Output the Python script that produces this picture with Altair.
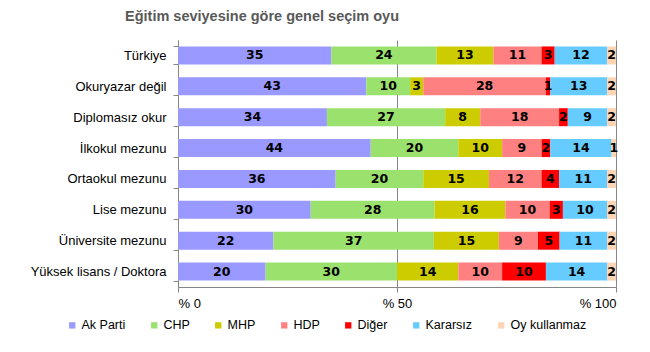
import altair as alt
import pandas as pd

categories = ["Türkiye", "Okuryazar değil", "Diplomasız okur", "İlkokul mezunu",
              "Ortaokul mezunu", "Lise mezunu", "Üniversite mezunu", "Yüksek lisans / Doktora"]
series = ["Ak Parti", "CHP", "MHP", "HDP", "Diğer", "Kararsız", "Oy kullanmaz"]
colors = ["#9999FF", "#9BE16E", "#CCCC00", "#FF8080", "#FF0000", "#66CCFF", "#FCD5B5"]

ak_parti = [35, 43, 34, 44, 36, 30, 22, 20]
chp = [24, 10, 27, 20, 20, 28, 37, 30]
mhp = [13, 3, 8, 10, 15, 16, 15, 14]
hdp = [11, 28, 18, 9, 12, 10, 9, 10]
diger = [3, 1, 2, 2, 4, 3, 5, 10]
kararsiz = [12, 13, 9, 14, 11, 10, 11, 14]
oy_kullanmaz = [2, 2, 2, 1, 2, 2, 2, 2]

values = [ak_parti, chp, mhp, hdp, diger, kararsiz, oy_kullanmaz]
rows = []
for si, (s, vals) in enumerate(zip(series, values)):
    for c, v in zip(categories, vals):
        rows.append({"cat": c, "series": s, "order": si, "value": v})
df = pd.DataFrame(rows)

base = alt.Chart(df).transform_stack(
    stack="value", groupby=["cat"], as_=["v0", "v1"], sort=[alt.SortField("order")]
).transform_joinaggregate(
    total="sum(value)", groupby=["cat"]
).transform_calculate(
    p0="datum.v0 / datum.total * 100",
    p1="datum.v1 / datum.total * 100",
    pm="(datum.v0 + datum.v1) / 2 / datum.total * 100",
)

yenc = alt.Y("cat:N", sort=categories, title=None,
             scale=alt.Scale(paddingInner=0.42, paddingOuter=0.21),
             axis=alt.Axis(tickBand="extent", tickSize=5, tickColor="#868686",
                           domainColor="#868686", labelFont="Liberation Sans",
                           labelFontSize=13, labelColor="#000000", labelPadding=7))

bars = base.mark_bar(size=18).encode(
    x=alt.X("p0:Q", scale=alt.Scale(domain=[0, 100], nice=False), title=None,
            axis=alt.Axis(values=[0, 50, 100], labelExpr="'% ' + datum.value",
                          grid=True, gridColor="#868686", tickSize=5,
                          tickColor="#868686", domainColor="#868686",
                          labelFont="Liberation Sans", labelFontSize=13,
                          labelColor="#000000", labelPadding=5)),
    x2="p1:Q",
    y=yenc,
    color=alt.Color("series:N", sort=series,
                    scale=alt.Scale(domain=series, range=colors),
                    legend=alt.Legend(title=None, orient="none", direction="horizontal",
                                      legendX=-112, legendY=279, symbolType="square",
                                      symbolSize=40, symbolStrokeWidth=0,
                                      labelFont="Liberation Sans", labelFontSize=12.5,
                                      labelColor="#000000", columnPadding=22,
                                      labelOffset=3, padding=0)),
    order=alt.Order("order:Q"),
)

labels = base.mark_text(font="DejaVu Sans", fontWeight="bold", fontSize=12.5,
                        color="#000000").encode(
    x=alt.X("pm:Q"),
    y=alt.Y("cat:N", sort=categories),
    text=alt.Text("value:Q"),
)

chart = (bars + labels).properties(
    width=438, height=247,
    padding={"left": 178, "top": 40, "right": 34, "bottom": 65},
    autosize=alt.AutoSizeParams(type="none"),
    title=alt.TitleParams("Eğitim seviyesine göre genel seçim oyu", anchor="middle",
                          frame="group", dx=-135, offset=10,
                          font="Liberation Sans", fontSize=14.5, fontWeight="bold",
                          color="#595959"),
).configure_view(stroke=None).configure_axis(domainWidth=1, gridWidth=1)

chart.save("out.html", embed_options={"renderer": "svg", "actions": False})
